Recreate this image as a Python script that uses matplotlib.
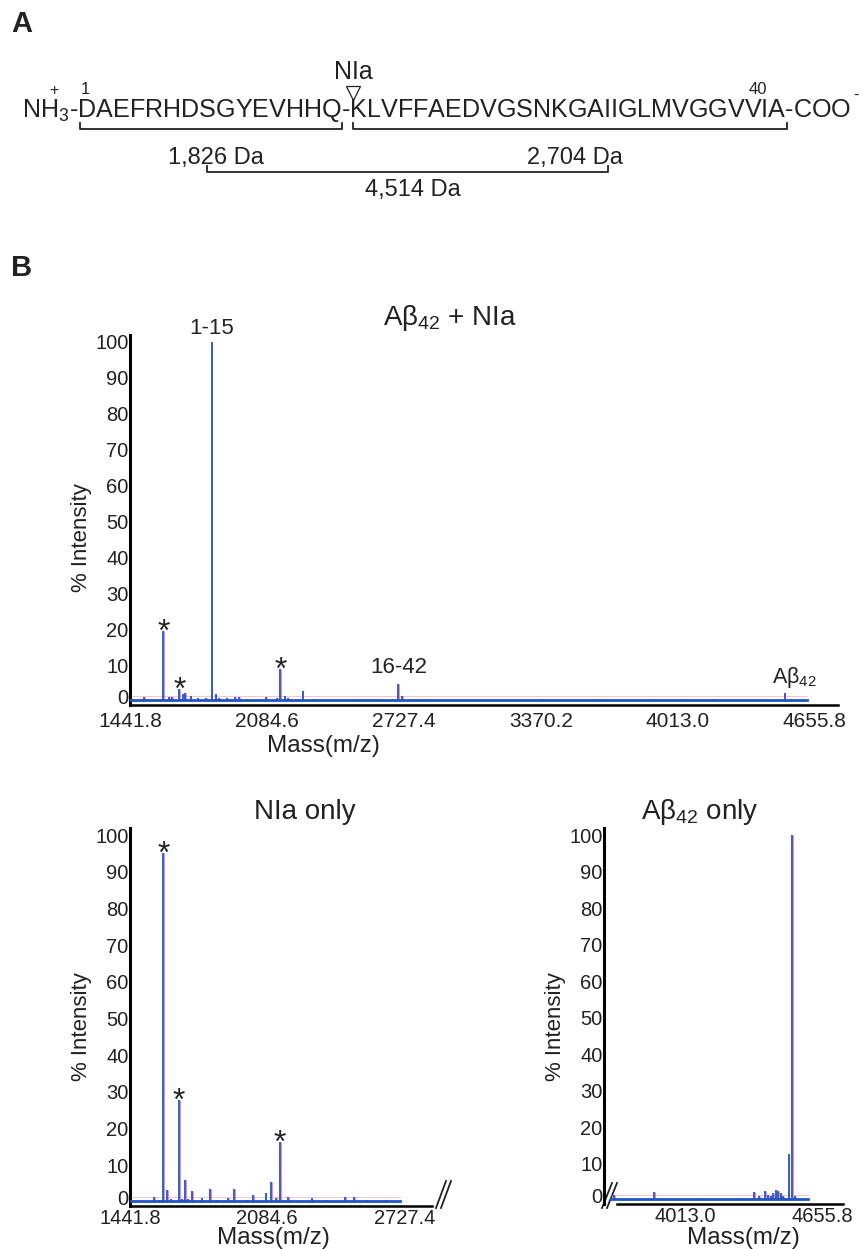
import matplotlib
matplotlib.use('Agg')
import matplotlib.pyplot as plt
import matplotlib.transforms as mtransforms
import numpy as np

plt.rcParams['font.family'] = ['Liberation Sans', 'DejaVu Sans']
plt.rcParams['mathtext.fontset'] = 'custom'
plt.rcParams['mathtext.rm'] = 'Liberation Sans'
plt.rcParams['mathtext.it'] = 'Liberation Sans:italic'

W, H = 863, 1249
TXT = '#222222'
BLUE = '#1f55c8'
PINK = '#f0709a'

# ---- data ----
xtick_top = [1441.8, 2084.6, 2727.4, 3370.2, 4013.0, 4655.8]
xtick_nia = [1441.8, 2084.6, 2727.4]
xtick_ab = [4013.0, 4655.8]

# A-beta42 + NIa digest
mix_mz = [1507, 1598, 1625, 1640, 1673, 1690, 1700, 1727, 1760, 1800, 1826, 1844, 1860,
          1895, 1935, 1955, 1990, 2082, 2130, 2148, 2168, 2185, 2252, 2300, 2560, 2702,
          2720, 2770, 2835, 3000, 3380, 3620, 3900, 4050, 4180, 4300, 4515]
mix_int = [1.2, 19.4, 1.0, 1.0, 3.4, 2.0, 2.3, 1.4, 0.9, 0.9, 100, 2.0, 0.8,
           0.9, 1.0, 1.0, 0.6, 1.2, 0.8, 8.8, 1.4, 0.8, 2.8, 0.6, 0.5, 4.8,
           1.4, 0.5, 0.6, 0.4, 0.5, 0.6, 0.6, 0.5, 0.5, 0.4, 2.2]
mix_range = [1441.8, 4620]

# NIa only
nia_mz = [1556, 1578, 1598, 1617, 1635, 1671, 1685, 1699, 1715, 1732, 1778, 1816, 1850,
          1902, 1930, 1990, 2019, 2077, 2104, 2125, 2144, 2183, 2293, 2360, 2449, 2491,
          2550, 2640]
nia_int = [1.4, 0.6, 95, 3.2, 0.8, 27.7, 0.8, 5.9, 0.8, 3.0, 1.2, 3.6, 0.6,
           1.2, 3.6, 0.6, 1.8, 2.5, 5.5, 1.2, 16.4, 1.5, 1.2, 0.6, 1.5, 1.4,
           0.6, 0.5]
nia_range = [1445, 2706]

# A-beta42 only
ab_mz = [3680, 3868, 4079, 4337, 4362, 4389, 4404, 4416, 4428, 4441, 4451, 4463, 4475,
         4500, 4515, 4530]
ab_int = [1.5, 2.3, 0.6, 2.3, 1.0, 2.6, 1.4, 1.2, 1.8, 2.7, 2.6, 1.8, 1.0,
          12.5, 100, 1.0]
ab_range = [3668, 4591]

head = 'NH$_3$-'
frag1 = 'DAEFRHDSGYEVHHQ'
frag2 = 'KLVFFAEDVGSNKGAIIGLMVGGVVIA'
tail = '-COO'
fragments = ['1,826 Da', '2,704 Da', '4,514 Da']


def rect(l, r, top, bot):
    return [l / W, 1 - bot / H, (r - l) / W, (bot - top) / H]


def spectrum(ax, mz, inten, rng, stars, dmz):
    mz = np.array(mz, float)
    inten = np.array(inten, float)
    ax.plot(rng, [1.3, 1.3], color=PINK, lw=0.6, alpha=0.5, zorder=1)
    ax.vlines(mz + dmz, 0.3, inten, color=PINK, lw=0.8, alpha=0.8, zorder=2)
    ax.vlines(mz, 0.3, inten, color=BLUE, lw=1.3, zorder=3)
    ax.plot(rng, [0.3, 0.3], color=BLUE, lw=2.0, zorder=3)
    for s in stars:
        ax.annotate('*', (mz[s], inten[s]), xytext=(0, -7), textcoords='offset points',
                    ha='center', va='baseline', fontsize=23, color=TXT)


def style(ax, xticks, pad, xsize=15):
    ax.set_ylim(-1, 102)
    ax.set_yticks(range(0, 101, 10))
    ax.set_xticks(xticks)
    ax.set_xticklabels(['%.1f' % t for t in xticks])
    ax.tick_params(length=0, colors=TXT)
    ax.tick_params(axis='x', pad=pad, labelsize=xsize)
    ax.tick_params(axis='y', pad=1, labelsize=14.5)
    for s in ['top', 'right']:
        ax.spines[s].set_visible(False)
    ax.spines['left'].set_linewidth(2.2)
    ax.spines['bottom'].set_linewidth(1.8)
    ax.set_facecolor('none')
    # the "0" label sits a little above the axis line
    lab0 = ax.get_yticklabels()[0]
    lab0.set_transform(lab0.get_transform() + mtransforms.ScaledTranslation(0, 3 / 72, ax.figure.dpi_scale_trans))


def labels(ax, box, ylab_xy, xlab_xy):
    l, r, top, bot = box
    ax.set_ylabel('% Intensity', fontsize=16, color=TXT, va='center', ha='center')
    ax.yaxis.set_label_coords((ylab_xy[0] - l) / (r - l), (bot - ylab_xy[1]) / (bot - top))
    ax.set_xlabel('Mass(m/z)', fontsize=17.5, color=TXT, va='center', ha='center')
    ax.xaxis.set_label_coords((xlab_xy[0] - l) / (r - l), (bot - xlab_xy[1]) / (bot - top))


fig = plt.figure(figsize=(W / 100, H / 100), dpi=100)
renderer = fig.canvas.get_renderer()

# overlay in pixel coordinates for panel A
axA = fig.add_axes([0, 0, 1, 1])
axA.set_xlim(0, W)
axA.set_ylim(H, 0)
axA.axis('off')


def wpx(s, fs):
    t = axA.text(0, 0, s, fontsize=fs)
    w = t.get_window_extent(renderer).width
    t.remove()
    return w


fig.text(22 / W, 1 - 24 / H, 'A', fontsize=21, fontweight='bold', ha='center', va='center', color=TXT)
fig.text(22 / W, 1 - 268 / H, 'B', fontsize=21, fontweight='bold', ha='center', va='center', color=TXT)

# sequence, fitted to the width of the reference line
seq = head + frag1 + '-' + frag2 + tail
x0, x_end = 22, 853
fs = 18 * (x_end - x0) / wpx(seq, 18)
axA.text(x0, 117, seq, fontsize=fs, ha='left', va='baseline', color=TXT)

x_d = x0 + wpx(head, fs)
x_q = x0 + wpx(head + frag1, fs)
x_k = x0 + wpx(head + frag1 + '-', fs)
x_a = x0 + wpx(head + frag1 + '-' + frag2, fs)
x_40 = x0 + wpx(head + frag1 + '-' + frag2[:25], fs)
x_v40 = x0 + wpx(head + frag1 + '-' + frag2[:24], fs)

axA.text(x0 + wpx('NH', fs) - 4, 90, '+', fontsize=11.5, ha='center', va='center', color=TXT)
axA.text(x_d + 7, 89, '1', fontsize=12, ha='center', va='center', color=TXT)
axA.text((x_40 + x_v40) / 2 + 3, 89, '40', fontsize=12, ha='center', va='center', color=TXT)
axA.text(x_end + 3, 95, '-', fontsize=12, ha='center', va='center', color=TXT)
x_cut = x_k + 3
axA.text(x_cut, 72, 'NIa', fontsize=18, ha='center', va='center', color=TXT)
axA.plot(x_cut, 93, marker='v', ms=10, mfc='none', mec=TXT, mew=0.9)

brackets = [(x_d + 2, x_q, 129), (x_k + 3, x_a, 129), (207, 608, 172)]
label_y = [158, 158, 190]
for (b0, b1, yb), ly, t in zip(brackets, label_y, fragments):
    axA.plot([b0, b0, b1, b1], [yb - 6, yb, yb, yb - 6], color=TXT, lw=1.3)
    axA.text((b0 + b1) / 2 + 5, ly, t, fontsize=17, ha='center', va='center', color=TXT)

# ---- top spectrum ----
box1 = (130, 838, 334.8, 704.6)
ax1 = fig.add_axes(rect(*box1))
ax1.set_xlim(1441.8, 4766)
spectrum(ax1, mix_mz, mix_int, mix_range, [1, 4, 19], 3)
style(ax1, xtick_top, 5)
labels(ax1, box1, (82, 538), (323, 746))
ax1.annotate('1-15', (1826, 100), xytext=(0, 2), textcoords='offset points',
             ha='center', va='bottom', fontsize=16, color=TXT)
ax1.annotate('16-42', (2702, 4.8), xytext=(0, 4), textcoords='offset points',
             ha='center', va='bottom', fontsize=16, color=TXT)
ax1.annotate('Aβ$_{42}$', (4515, 2.2), xytext=(7, 2), textcoords='offset points',
             ha='center', va='bottom', fontsize=15.5, color=TXT)
fig.text(450 / W, 1 - 318 / H, 'Aβ$_{42}$ + NIa', fontsize=20, ha='center', va='center', color=TXT)

# ---- NIa only ----
box2 = (130, 450, 827.7, 1205.7)
ax2 = fig.add_axes(rect(*box2))
ax2.set_xlim(1441.8, 1441.8 + (450 - 130) / 0.2135)
spectrum(ax2, nia_mz, nia_int, nia_range, [2, 5, 20], 3)
style(ax2, xtick_nia, 2.5, 14.5)
ax2.spines['bottom'].set_bounds(1441.8, 1441.8 + (432 - 130) / 0.2135)
labels(ax2, box2, (82, 1027), (273, 1238))
for dx in (0, 5):
    axA.plot([436 + dx, 446 + dx], [1208, 1181], color=TXT, lw=1.3)
fig.text(305 / W, 1 - 812 / H, 'NIa only', fontsize=20, ha='center', va='center', color=TXT)

# ---- A-beta42 only ----
box3 = (604, 843, 827.7, 1203.7)
ax3 = fig.add_axes(rect(*box3))
ax3.set_xlim(3633, 3633 + (843 - 604) / 0.213)
spectrum(ax3, ab_mz, ab_int, ab_range, [], 3)
style(ax3, xtick_ab, 2.5, 14.5)
ax3.spines['bottom'].set_bounds(3633 + 13 / 0.213, 3633 + (843 - 604) / 0.213)
labels(ax3, box3, (555, 1027), (743, 1238))
for dx in (0, 5):
    axA.plot([602 + dx, 612 + dx], [1208, 1183], color=TXT, lw=1.3)
fig.text(700 / W, 1 - 812 / H, 'Aβ$_{42}$ only', fontsize=20, ha='center', va='center', color=TXT)

fig.savefig('out.png', dpi=100)
